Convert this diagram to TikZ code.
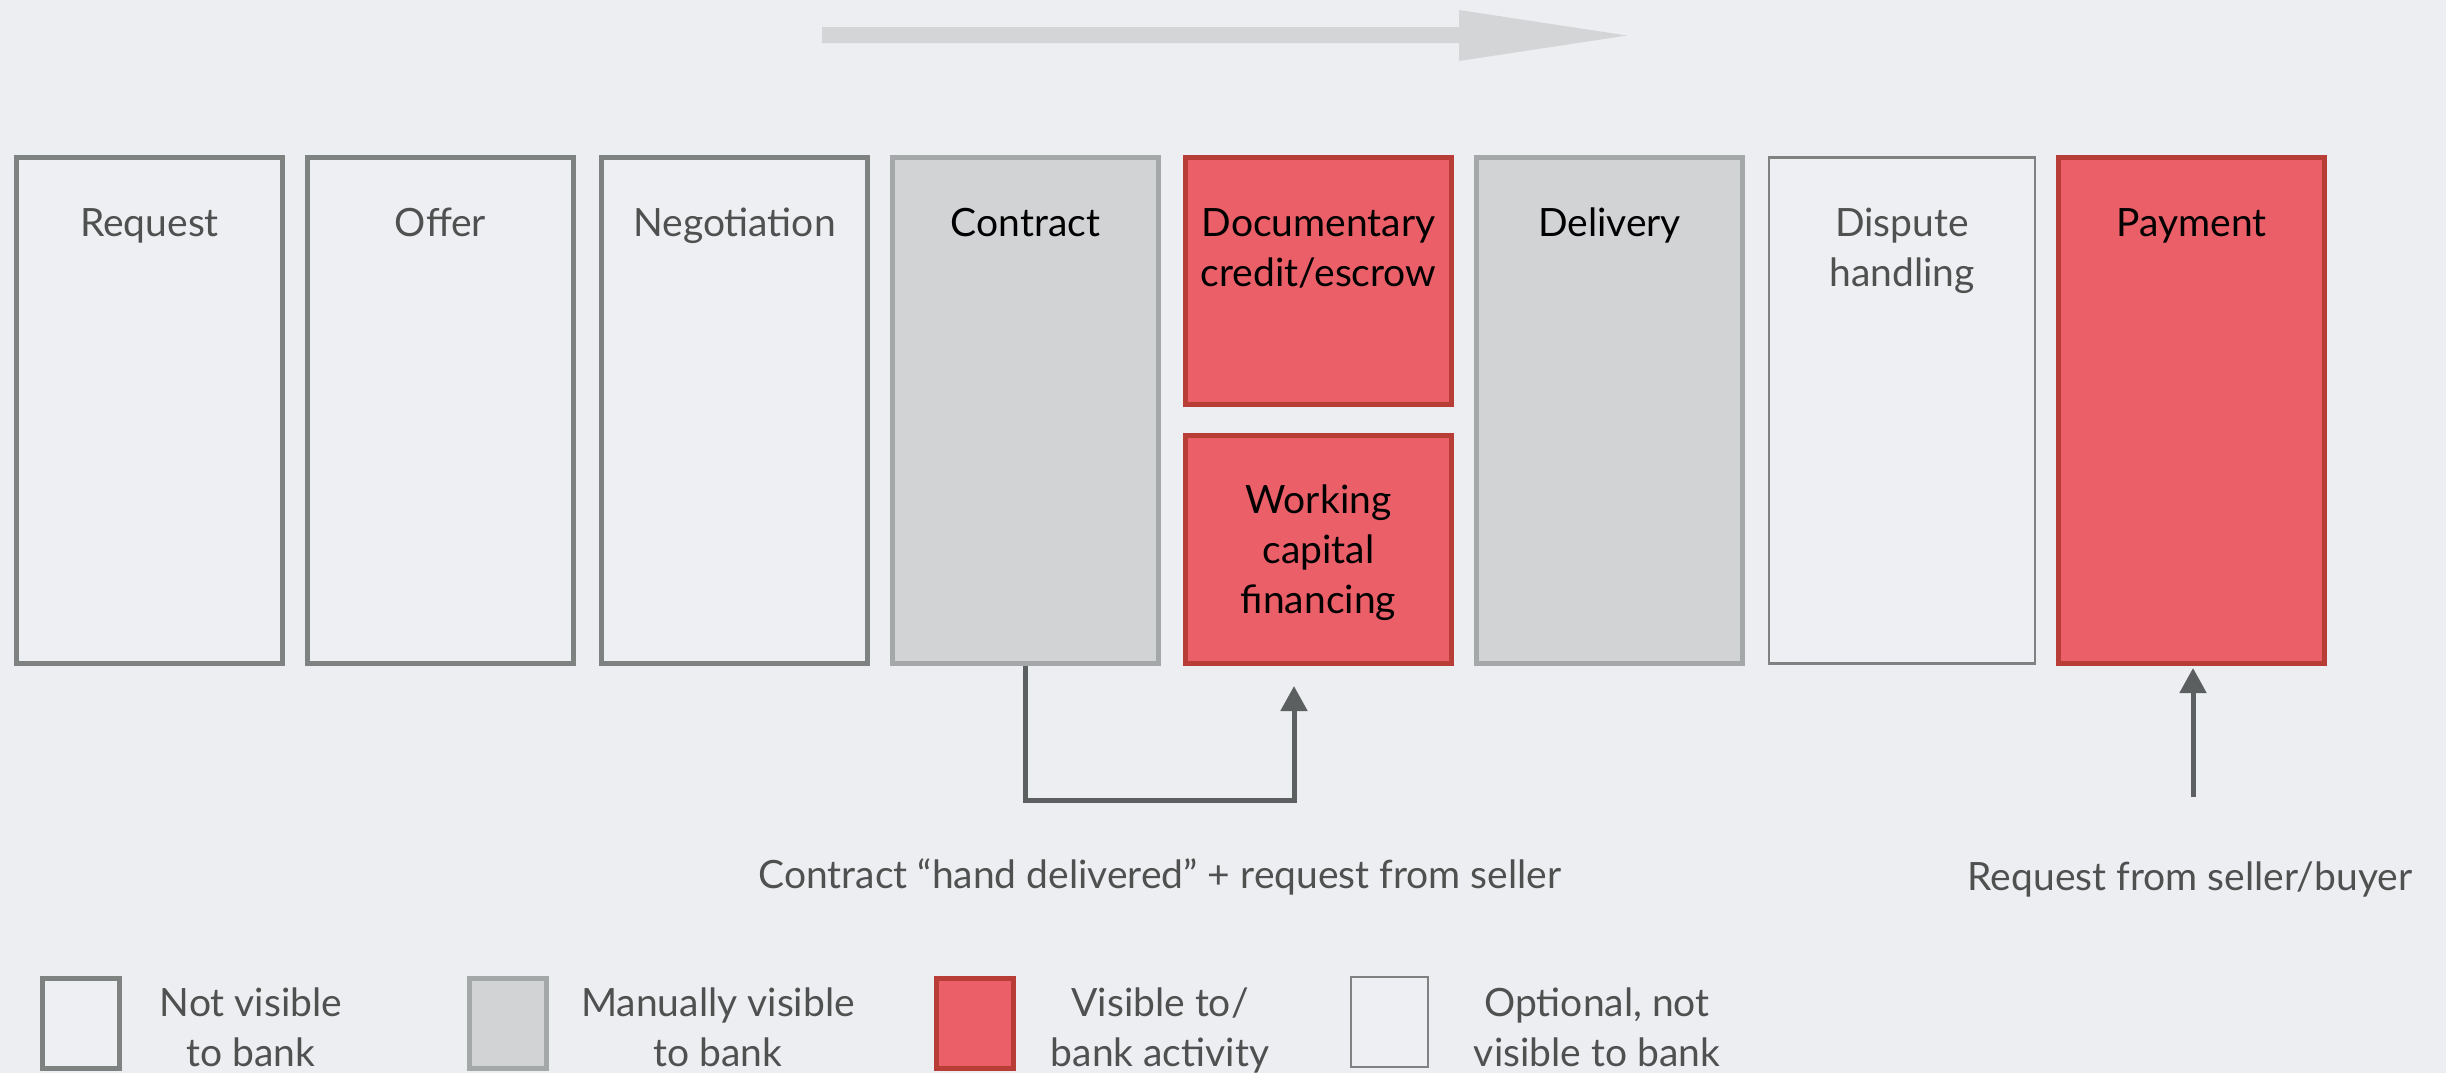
\documentclass[tikz,border=0pt]{standalone}
\usepackage{fontspec}
\setmainfont{Lato}
\usetikzlibrary{arrows.meta}

\definecolor{bgc}{HTML}{ECEEF1}
\definecolor{whitefill}{HTML}{EDEFF2}
\definecolor{whitebd}{HTML}{7E8381}
\definecolor{grayfill}{HTML}{D2D3D5}
\definecolor{graybd}{HTML}{A5A8A9}
\definecolor{redfill}{HTML}{EA5F68}
\definecolor{redbd}{HTML}{B83D36}
\definecolor{textgray}{HTML}{4F5050}
\definecolor{connc}{HTML}{5B5F5F}
\definecolor{flowc}{HTML}{D3D5D7}

\tikzset{
  stage/.style={draw, rectangle, inner sep=0pt, line width=2.5pt,
                minimum width=133pt, minimum height=253pt},
  hidden/.style={draw=whitebd, fill=whitefill},
  manual/.style={draw=graybd, fill=grayfill},
  bank/.style={draw=redbd, fill=redfill},
  optional/.style={draw=whitebd, fill=whitefill, line width=1.25pt},
  swatch/.style={draw, rectangle, inner sep=0pt, line width=2.5pt,
                 minimum width=38.5pt, minimum height=45pt},
  % multi-line labels: the base anchor sits on the last line
  lbl/.style={anchor=base, align=center, inner sep=0pt},
  dim/.style={text=textgray},
  conn/.style={draw=connc, line width=2.5pt,
               -{Triangle[width=13pt,length=12.5pt]}},
}

\begin{document}
\begin{tikzpicture}[x=0.5pt, y=-0.5pt, font=\fontsize{19.5}{25}\selectfont]
  % canvas
  \fill[bgc] (0,0) rectangle (2446,1073);
  \useasboundingbox (0,0) rectangle (2446,1073);

  % process direction arrow
  \fill[flowc] (822,27) -- (1459,27) -- (1459,10) -- (1627,35.5)
               -- (1459,61) -- (1459,43) -- (822,43) -- cycle;

  % stages
  \node[stage, hidden]   (req) at (149.5,410.5) {};
  \node[stage, hidden]   (off) at (440.5,410.5) {};
  \node[stage, hidden]   (neg) at (734.5,410.5) {};
  \node[stage, manual]   (con) at (1025.5,410.5) {};
  \node[stage, bank, minimum height=123.5pt] (doc) at (1318.5,281) {};
  \node[stage, bank, minimum height=114pt]   (wcf) at (1318.5,549.5) {};
  \node[stage, manual]   (del) at (1609.5,410.5) {};
  \node[stage, optional] (dis) at (1902,410.5) {};
  \node[stage, bank]     (pay) at (2191.5,410.5) {};

  % stage titles
  \node[lbl, dim] (treq) at (req.center |- 0,236) {Request};
  \node[lbl, dim] (toff) at (off.center |- 0,236) {Offer};
  \node[lbl, dim] (tneg) at (neg.center |- 0,236) {Negotiation};
  \node[lbl]      (tcon) at (con.center |- 0,236) {Contract};
  \node[lbl]      (tdoc) at (doc.center |- 0,286) {Documentary\\credit/escrow};
  \node[lbl]      (twcf) at (wcf.center |- 0,613) {Working\\capital\\financing};
  \node[lbl]      (tdel) at (del.center |- 0,236) {Delivery};
  \node[lbl, dim] (tdis) at (dis.center |- 0,286) {Dispute\\handling};
  \node[lbl]      (tpay) at (pay.center |- 0,236) {Payment};

  % triggers
  \coordinate (bend) at (1294,800);
  \draw[conn, shorten >=10pt] (con.south) |- (bend) -- (bend |- wcf.south);
  \coordinate (payreq) at (2193,797);
  \draw[conn, shorten >=1pt] (payreq) -- (payreq |- pay.south);

  \node[lbl, dim] (ncon) at (1160,888) {Contract “hand delivered” + request from seller};
  \node[lbl, dim] (npay) at (2190,890) {Request from seller/buyer};

  % legend
  \node[swatch, hidden]   (k1) at (81,1023.5) {};
  \node[swatch, manual]   (k2) at (507.5,1023.5) {};
  \node[swatch, bank]     (k3) at (975,1023.5) {};
  \node[swatch, optional] (k4) at (1389.5,1022) {};

  \node[lbl, dim] (l1) at (251,1066)  {Not visible\\to bank};
  \node[lbl, dim] (l2) at (718,1066)  {Manually visible\\to bank};
  \node[lbl, dim] (l3) at (1160,1066) {Visible to/\\bank activity};
  \node[lbl, dim] (l4) at (1597,1066) {Optional, not\\visible to bank};
\end{tikzpicture}
\end{document}
